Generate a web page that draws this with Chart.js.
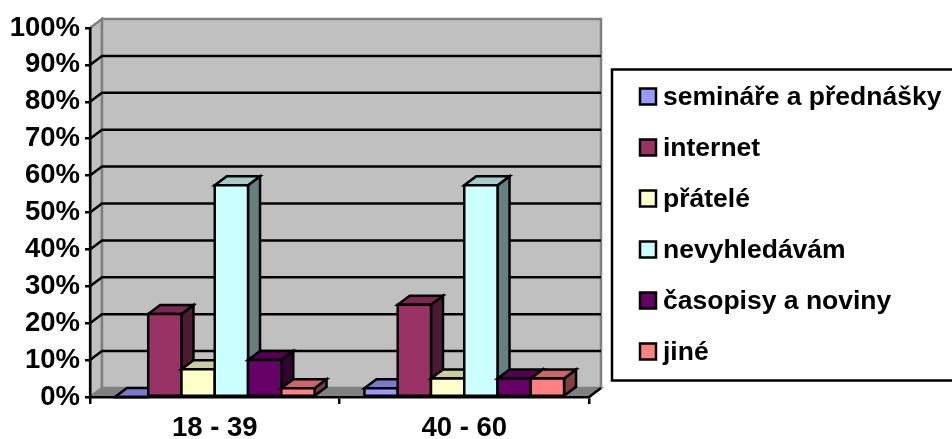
<!DOCTYPE html>
<html>
<head>
<meta charset="utf-8">
<style>
  html, body { margin: 0; padding: 0; background: #fff; overflow: hidden; }
  canvas { display: block; }
</style>
<script src="https://cdn.jsdelivr.net/npm/chart.js@4"></script>
</head>
<body>
<canvas id="chart" width="952" height="439"></canvas>
<script>
const categories = ['18 - 39', '40 - 60'];
const seriesNames = ['semináře a přednášky', 'internet', 'přátelé', 'nevyhledávám', 'časopisy a noviny', 'jiné'];
const seminare = [0, 2.4];
const internet = [22.5, 25];
const pratele = [7.5, 5];
const nevyhledavam = [57.4, 57.4];
const casopisy = [10, 5];
const jine = [2.4, 5];
const seriesValues = [seminare, internet, pratele, nevyhledavam, casopisy, jine];
const seriesColors = ['#9999ff', '#993366', '#ffffcc', '#ccffff', '#660066', '#ff8080'];

const FONT = '"Liberation Sans", Arial, sans-serif';
const DEPTH_X = 12;
const DEPTH_Y = 9;
const LINE = 2.5;

// darken a #rrggbb colour for the shaded bar faces
function shade(hex, k) {
  const n = parseInt(hex.slice(1), 16);
  const c = [n >> 16, (n >> 8) & 255, n & 255].map(v => Math.round(v * k));
  return `rgb(${c[0]},${c[1]},${c[2]})`;
}

function poly(ctx, pts, fill, stroke, width) {
  ctx.beginPath();
  pts.forEach((p, i) => (i ? ctx.lineTo(p[0], p[1]) : ctx.moveTo(p[0], p[1])));
  ctx.closePath();
  if (fill) { ctx.fillStyle = fill; ctx.fill(); }
  if (stroke) { ctx.strokeStyle = stroke; ctx.lineWidth = width; ctx.lineJoin = 'miter'; ctx.stroke(); }
}

// back wall, side wall, floor and the gridlines running across them
const walls = {
  id: 'walls',
  beforeDraw(chart) {
    const { ctx, chartArea: a } = chart;
    const y = chart.scales.y;
    const dx = DEPTH_X, dy = DEPTH_Y;
    ctx.save();
    poly(ctx, [[a.left, a.top], [a.left + dx, a.top - dy], [a.left + dx, a.bottom - dy], [a.left, a.bottom]], '#c0c0c0', '#808080', 2.5);
    poly(ctx, [[a.left + dx, a.top - dy], [a.right + dx, a.top - dy], [a.right + dx, a.bottom - dy], [a.left + dx, a.bottom - dy]], '#c0c0c0', '#808080', 2.5);
    poly(ctx, [[a.left, a.bottom], [a.left + dx, a.bottom - dy], [a.right + dx, a.bottom - dy], [a.right, a.bottom]], '#808080', '#808080', 2);
    ctx.strokeStyle = '#000';
    ctx.lineWidth = LINE;
    y.ticks.forEach(t => {
      if (t.value === 0 || t.value === 100) return;
      const py = y.getPixelForValue(t.value);
      ctx.beginPath();
      ctx.moveTo(a.left, py);
      ctx.lineTo(a.left + dx, py - dy);
      ctx.lineTo(a.right + dx, py - dy);
      ctx.stroke();
    });
    ctx.beginPath();
    ctx.moveTo(a.right, a.bottom);
    ctx.lineTo(a.right + dx, a.bottom - dy);
    ctx.stroke();
    ctx.restore();
  }
};

// bars are painted left to right as boxes: side, top, then front
const bars3d = {
  id: 'bars3d',
  beforeDatasetDraw() {
    return false;
  },
  afterDatasetsDraw(chart) {
    const { ctx } = chart;
    const dx = DEPTH_X, dy = DEPTH_Y;
    ctx.save();
    seriesValues.forEach((vals, i) => {
      const color = seriesColors[i];
      chart.getDatasetMeta(i).data.forEach(bar => {
        const l = bar.x - bar.width / 2, r = bar.x + bar.width / 2;
        const t = bar.y, b = bar.base;
        poly(ctx, [[r, t], [r + dx, t - dy], [r + dx, b - dy], [r, b]], shade(color, 0.5), '#000', LINE);
        poly(ctx, [[l, t], [l + dx, t - dy], [r + dx, t - dy], [r, t]], shade(color, 0.8), '#000', LINE);
        poly(ctx, [[l, t], [r, t], [r, b], [l, b]], color, '#000', LINE);
      });
    });
    ctx.restore();
  }
};

// framed legend box, its right edge runs off the canvas
const frameLegend = {
  id: 'frameLegend',
  afterDraw(chart) {
    const { ctx } = chart;
    ctx.save();
    ctx.strokeStyle = '#000';
    ctx.lineWidth = 2.5;
    ctx.strokeRect(612, 69.5, 360, 311);
    ctx.font = `bold 26.5px ${FONT}`;
    ctx.textBaseline = 'alphabetic';
    seriesNames.forEach((name, i) => {
      const cy = 96.5 + i * 51;
      ctx.fillStyle = seriesColors[i];
      ctx.fillRect(640, cy - 8, 16, 16);
      ctx.strokeStyle = '#000';
      ctx.lineWidth = 2.5;
      ctx.strokeRect(640, cy - 8, 16, 16);
      ctx.fillStyle = '#000';
      ctx.fillText(name, 663, cy + 8);
    });
    ctx.restore();
  }
};

new Chart(document.getElementById('chart'), {
  type: 'bar',
  data: {
    labels: categories,
    datasets: seriesNames.map((name, i) => ({
      label: name,
      data: seriesValues[i],
      backgroundColor: seriesColors[i],
      categoryPercentage: 0.8,
      barPercentage: 1,
    })),
  },
  options: {
    responsive: false,
    animation: false,
    layout: { padding: { top: 28, right: 363, left: 0, bottom: 0 } },
    plugins: { legend: { display: false }, tooltip: { enabled: false } },
    scales: {
      x: {
        afterFit(s) { s.height = 42; },
        grid: { offset: true, drawOnChartArea: false, color: '#000', lineWidth: 2.5, tickLength: 7 },
        border: { color: '#000', width: 2.5 },
        ticks: { color: '#000', padding: 8, maxRotation: 0, font: { family: FONT, size: 27.5, weight: 'bold' } },
      },
      y: {
        min: 0,
        max: 100,
        afterFit(s) { s.width = 90; },
        grid: { drawOnChartArea: false, color: '#000', lineWidth: 2.5, tickLength: 5 },
        border: { color: '#000', width: 2.5 },
        ticks: {
          stepSize: 10,
          color: '#000',
          padding: 5,
          font: { family: FONT, size: 27.5, weight: 'bold' },
          callback: v => v + '%',
        },
      },
    },
  },
  plugins: [walls, bars3d, frameLegend],
});
</script>
</body>
</html>
